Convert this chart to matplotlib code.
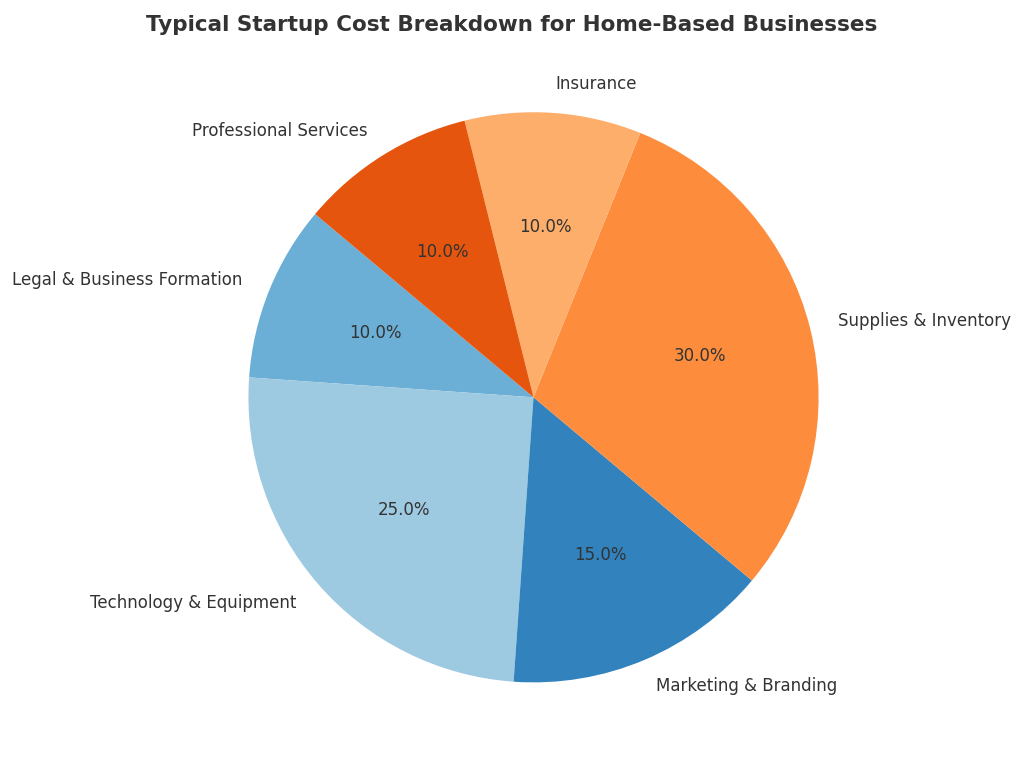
import matplotlib.pyplot as plt

labels = ["Legal & Business Formation", "Technology & Equipment", "Marketing & Branding",
          "Supplies & Inventory", "Insurance", "Professional Services"]
values = [10, 25, 15, 30, 10, 10]
colors = ["#6baed6", "#9ecae1", "#3182bd", "#fd8d3c", "#fdae6b", "#e6550d"]

fig = plt.figure(figsize=(10.24, 7.67), dpi=100)
ax = fig.add_axes([0.173, 0.017, 0.696, 0.93])
ax.pie(values, labels=labels, colors=colors, autopct="%1.1f%%", startangle=140,
       textprops={"fontsize": 12, "color": "#333333"})
ax.set_aspect("equal")
fig.suptitle("Typical Startup Cost Breakdown for Home-Based Businesses",
             fontsize=15.5, fontweight="bold", color="#333333", y=0.98)
fig.savefig("out.png", dpi=100)
